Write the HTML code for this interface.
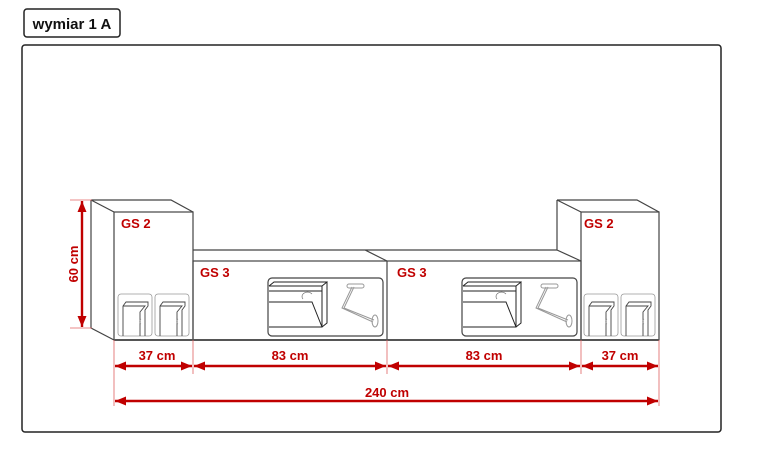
<!DOCTYPE html>
<html><head><meta charset="utf-8"><style>
html,body{margin:0;padding:0;background:#fff;}
svg{display:block;}
text{font-family:"Liberation Sans",Arial,sans-serif;font-weight:bold;}
</style></head><body>
<svg width="763" height="460" viewBox="0 0 763 460" xmlns="http://www.w3.org/2000/svg">
<defs>
<marker id="a" viewBox="0 0 10 10" refX="10" refY="5" markerWidth="11" markerHeight="9" orient="auto-start-reverse" markerUnits="userSpaceOnUse" preserveAspectRatio="none"><path d="M0,0 L10,5 L0,10 z" fill="#c00000"/></marker>
<g id="door">
<rect x="0" y="0" width="34" height="42" rx="3" fill="none" stroke="#999" stroke-width="0.8"/>
<path d="M5,42 V12 L8,8 H30 V12 L27,16 V42 M5,12 H27 L22,18 V42 M8,8 L5,12" fill="none" stroke="#444" stroke-width="0.9"/>
<path d="M23,30 a3,3 0 0 1 0,-5" fill="none" stroke="#888" stroke-width="0.7"/>
</g>
<g id="niche">
<rect x="0" y="0" width="115" height="58" rx="4" fill="none" stroke="#444" stroke-width="1.2"/>
<path d="M1,8 H54 V49 H1 M54,8 L59,4 V45 L54,49 M1,8 L6,4 H59 M1,13 H54 M1,24 H44 L54,49" fill="none" stroke="#222" stroke-width="1"/>
<path d="M44,16 a5,4 0 0 0 -9,5" fill="none" stroke="#777" stroke-width="0.7"/>
<path d="M84,9 L74,30 L105,44 M86,9 L76,30 L106,42" fill="none" stroke="#999" stroke-width="1"/>
<rect x="79" y="6" width="17" height="4" rx="2" fill="none" stroke="#999"/>
<ellipse cx="107" cy="43" rx="3" ry="6" fill="none" stroke="#999"/>
</g>
</defs>

<rect x="24" y="9" width="96" height="28" rx="3" fill="#fff" stroke="#222" stroke-width="1.5"/>
<text x="72" y="29" text-anchor="middle" font-size="15" fill="#111">wymiar 1 A</text>
<rect x="22" y="45" width="699" height="387" rx="3" fill="#fff" stroke="#222" stroke-width="1.5"/>

<g fill="none" stroke="#444" stroke-width="1.2">
<path d="M91,200 H171 L193,212 M91,200 V328 L114,340 M91,200 L114,212"/>
<rect x="114" y="212" width="79" height="128"/>
<path d="M193,250 H365 L387,261 M365,250 H557 M387,261 V340"/>
<rect x="193" y="261" width="388" height="79"/>
<path d="M557,200 H637 L659,212 M557,200 V250 L581,261 M557,200 L581,212"/>
<rect x="581" y="212" width="78" height="128"/>
</g>
<line x1="114" y1="340" x2="659" y2="340" stroke="#555" stroke-width="2"/>

<use href="#door" x="118" y="294"/>
<use href="#door" x="155" y="294"/>
<use href="#door" x="584" y="294"/>
<use href="#door" x="621" y="294"/>
<use href="#niche" x="268" y="278"/>
<use href="#niche" x="462" y="278"/>

<g fill="#c00000" font-size="13">
<text x="121" y="228">GS 2</text>
<text x="584" y="228">GS 2</text>
<text x="200" y="277">GS 3</text>
<text x="397" y="277">GS 3</text>
<text x="157" y="360" text-anchor="middle">37 cm</text>
<text x="290" y="360" text-anchor="middle">83 cm</text>
<text x="484" y="360" text-anchor="middle">83 cm</text>
<text x="620" y="360" text-anchor="middle">37 cm</text>
<text x="387" y="397" text-anchor="middle">240 cm</text>
<text transform="translate(78,264) rotate(-90)" text-anchor="middle">60 cm</text>
</g>

<g stroke="#e06060" stroke-width="0.8">
<line x1="70" y1="200" x2="92" y2="200"/>
<line x1="70" y1="328" x2="92" y2="328"/>
<line x1="114" y1="340" x2="114" y2="406"/>
<line x1="193" y1="340" x2="193" y2="374"/>
<line x1="387" y1="340" x2="387" y2="374"/>
<line x1="581" y1="340" x2="581" y2="374"/>
<line x1="659" y1="340" x2="659" y2="406"/>
</g>
<g stroke="#c00000" stroke-width="2.4" marker-start="url(#a)" marker-end="url(#a)">
<line x1="82" y1="201" x2="82" y2="327"/>
<line x1="115" y1="366" x2="192" y2="366"/>
<line x1="194" y1="366" x2="386" y2="366"/>
<line x1="388" y1="366" x2="580" y2="366"/>
<line x1="582" y1="366" x2="658" y2="366"/>
<line x1="115" y1="401" x2="658" y2="401"/>
</g>
</svg>
</body></html>
